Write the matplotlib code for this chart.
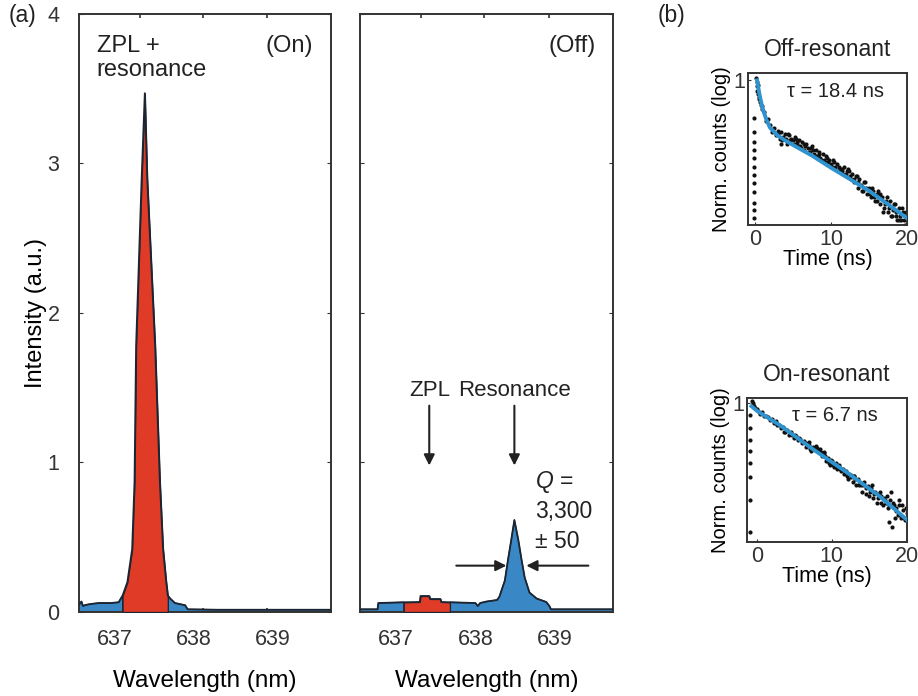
import matplotlib
matplotlib.use("Agg")
import matplotlib.pyplot as plt

plt.rcParams['font.family'] = ['Liberation Sans', 'DejaVu Sans']
plt.rcParams['mathtext.fontset'] = 'custom'
plt.rcParams['mathtext.it'] = 'Liberation Sans:italic'
plt.rcParams['mathtext.rm'] = 'Liberation Sans'
plt.rcParams['text.color'] = '#222222'
plt.rcParams['axes.edgecolor'] = '#333333'
plt.rcParams['xtick.color'] = '#333333'
plt.rcParams['ytick.color'] = '#333333'

RED = '#e03b26'
BLUE = '#3a87c6'
EDGE = '#1c2633'
FIT = '#2f93cf'

# spectra, cavity on / off resonance with the ZPL
on_wl = [636.55, 636.58, 636.60, 636.62, 636.66, 636.72, 636.80, 636.95, 637.05,
         637.10, 637.16, 637.22, 637.25, 637.27, 637.34, 637.38, 637.41, 637.51,
         637.57, 637.61, 637.65, 637.67, 637.70, 637.76, 637.89, 637.92, 638.3,
         638.8, 639.3, 639.73]
on_int = [0.05, 0.07, 0.04, 0.045, 0.05, 0.055, 0.06, 0.06, 0.065,
          0.11, 0.20, 0.42, 0.87, 1.78, 2.90, 3.47, 2.90, 1.78,
          0.87, 0.42, 0.20, 0.11, 0.09, 0.06, 0.045, 0.018, 0.015,
          0.015, 0.015, 0.015]

off_wl = [636.55, 636.77, 636.78, 637.10, 637.30, 637.31, 637.42, 637.43, 637.56,
          637.57, 637.68, 638.00, 638.03, 638.06, 638.14, 638.27, 638.30, 638.37,
          638.41, 638.45, 638.49, 638.54, 638.58, 638.62, 638.68, 638.77, 638.89,
          638.93, 638.95, 639.73]
off_int = [0.018, 0.018, 0.06, 0.065, 0.067, 0.107, 0.107, 0.087, 0.087,
           0.067, 0.065, 0.06, 0.04, 0.06, 0.07, 0.08, 0.10, 0.21,
           0.35, 0.48, 0.615, 0.48, 0.35, 0.23, 0.13, 0.09, 0.067,
           0.04, 0.018, 0.018]

wl_ticks = [637, 638, 639]
tick_marks = [637.32, 638.11, 638.92]

# lifetime traces (normalised counts)
off_t = [-0.15] * 12 + [0.2, 0.25, 0.3, 0.35, 0.4, 0.45, 0.5, 0.6, 0.7, 0.8, 0.9] + \
    [1.0, 1.25, 1.5, 1.75, 2.0, 2.25, 2.5, 2.75, 3.0, 3.25, 3.5, 3.75, 4.0, 4.25,
     4.5, 4.75, 5.0, 5.25, 5.5, 5.75, 6.0, 6.25, 6.5, 6.75, 7.0, 7.25, 7.5, 7.75,
     8.0, 8.25, 8.5, 8.75, 9.0, 9.25, 9.5, 9.75, 10.0, 10.25, 10.5, 10.75, 11.0,
     11.25, 11.5, 11.75, 12.0, 12.25, 12.5, 12.75, 13.0, 13.25, 13.5, 13.75, 14.0,
     14.25, 14.5, 14.75, 15.0, 15.25, 15.5, 15.75, 16.0, 16.25, 16.5, 16.75, 17.0,
     17.25, 17.5, 17.75, 18.0, 18.25, 18.5, 18.75, 19.0, 19.25, 19.5, 19.75, 20.0] + \
    [3.1, 3.6, 4.1, 4.6, 5.1, 5.6, 6.1, 6.6, 7.1, 7.6, 8.1, 8.6, 9.1, 9.6, 10.1,
     10.6, 11.1, 11.6, 12.1, 12.6, 13.1, 13.6, 14.1, 14.6, 15.1, 15.6, 16.1, 16.6,
     17.1, 17.6, 18.1, 18.6, 19.1, 19.6, 19.9] + \
    [3.4, 4.4, 5.4, 6.4, 7.4, 8.4, 9.4, 10.4, 11.4, 12.4, 13.4, 14.4, 15.4, 16.4,
     17.4, 18.4, 19.4, 19.8, 18.9, 17.9, 16.9]
off_counts = [0.64, 0.542, 0.481, 0.438, 0.398, 0.358, 0.326, 0.296, 0.266, 0.234, 0.215, 0.196] + \
    [1.03, 0.98, 0.93, 0.88, 0.95, 0.85, 0.82, 0.80, 0.77, 0.75, 0.71] + \
    [0.74, 0.69, 0.62, 0.63, 0.59, 0.545, 0.57, 0.52, 0.55, 0.50, 0.54, 0.51, 0.53, 0.47,
     0.52, 0.50, 0.49, 0.51, 0.47, 0.49, 0.46, 0.48, 0.44, 0.47, 0.45, 0.43, 0.46, 0.42,
     0.44, 0.41, 0.43, 0.39, 0.42, 0.38, 0.40, 0.39, 0.37, 0.39, 0.35, 0.37, 0.36,
     0.35, 0.34, 0.36, 0.33, 0.35, 0.32, 0.33, 0.30, 0.32, 0.28, 0.31, 0.29,
     0.27, 0.30, 0.26, 0.28, 0.25, 0.27, 0.24, 0.26, 0.27, 0.23, 0.25, 0.22,
     0.24, 0.21, 0.24, 0.20, 0.23, 0.21, 0.19, 0.22, 0.19, 0.21, 0.20, 0.19] + \
    [0.53, 0.49, 0.50, 0.49, 0.47, 0.48, 0.45, 0.46, 0.43, 0.44, 0.41, 0.40, 0.39, 0.38, 0.36,
     0.36, 0.34, 0.33, 0.34, 0.31, 0.31, 0.30, 0.27, 0.28, 0.26, 0.25, 0.24, 0.25,
     0.23, 0.22, 0.215, 0.20, 0.20, 0.19, 0.21] + \
    [0.47, 0.53, 0.50, 0.47, 0.45, 0.42, 0.41, 0.38, 0.35, 0.34, 0.32, 0.30, 0.28, 0.26,
     0.25, 0.23, 0.22, 0.18, 0.19, 0.20, 0.21]
off_fit_t = [0.3, 0.6, 1.0, 1.5, 2.0, 3.0, 4.0, 5.0, 7.5, 10.0, 12.5, 15.0, 17.5, 20.0]
off_fit = [1.0, 0.85, 0.72, 0.63, 0.57, 0.52, 0.49, 0.465, 0.41, 0.355, 0.31, 0.27, 0.23, 0.195]

on_t = [-0.9] * 8 + [-0.6, -0.5, -0.45, -0.3, -0.2, 0.0, 0.1] + \
    [0.25, 0.5, 0.75, 1.0, 1.25, 1.5, 1.75, 2.0, 2.25, 2.5, 2.75, 3.0, 3.25, 3.5, 3.75,
     4.0, 4.25, 4.5, 4.75, 5.0, 5.25, 5.5, 5.75, 6.0, 6.25, 6.5, 6.75, 7.0, 7.25, 7.5,
     7.75, 8.0, 8.25, 8.5, 8.75, 9.0, 9.25, 9.5, 9.75, 10.0, 10.25, 10.5, 10.75, 11.0,
     11.25, 11.5, 11.75, 12.0, 12.25, 12.5, 12.75, 13.0, 13.25, 13.5, 13.75, 14.0,
     14.25, 14.5, 14.75, 15.0, 15.25, 15.5, 15.75, 16.0, 16.25, 16.5, 16.75, 17.0,
     17.25, 17.5, 17.75, 18.0, 18.25, 18.5, 18.75, 19.0, 19.25, 19.5, 19.75, 20.0] + \
    [5.1, 5.6, 6.1, 6.6, 7.1, 7.6, 8.1, 8.6, 9.1, 9.6, 10.1, 10.6, 11.1, 11.6, 12.1,
     12.6, 13.1, 13.6, 14.1, 14.6, 15.1, 15.6, 16.1, 16.6, 17.1, 17.6, 18.1, 18.6,
     19.1, 19.6] + \
    [2.6, 3.6, 4.6, 6.9, 7.9, 8.4, 8.9, 9.9, 10.9, 11.9, 12.9, 13.9, 14.9, 15.4,
     16.4, 17.4, 17.9, 18.4, 18.9, 19.4, 19.9, 17.6]
on_counts = [0.73, 0.52, 0.38, 0.29, 0.21, 0.146, 0.080, 0.035] + \
    [1.05, 0.99, 0.95, 0.92, 0.88, 0.86, 0.83] + \
    [0.80, 0.76, 0.79, 0.71, 0.72, 0.69, 0.64, 0.66, 0.60, 0.60, 0.56, 0.57, 0.52, 0.53, 0.47,
     0.50, 0.44, 0.46, 0.44, 0.40, 0.42, 0.38, 0.39, 0.35, 0.37, 0.35, 0.33, 0.34, 0.29, 0.32,
     0.30, 0.31, 0.29, 0.28, 0.25, 0.27, 0.22, 0.24, 0.20, 0.22, 0.19, 0.21, 0.18, 0.19,
     0.17, 0.18, 0.165, 0.15, 0.16, 0.155, 0.13, 0.15, 0.12, 0.14, 0.125, 0.10,
     0.13, 0.095, 0.115, 0.09, 0.11, 0.085, 0.10, 0.075, 0.095, 0.09, 0.07, 0.085,
     0.075, 0.065, 0.08, 0.04, 0.07, 0.065, 0.055, 0.07, 0.05, 0.062, 0.048, 0.058] + \
    [0.43, 0.40, 0.36, 0.32, 0.30, 0.30, 0.29, 0.27, 0.25, 0.21, 0.20, 0.19, 0.18, 0.16, 0.14,
     0.145, 0.14, 0.12, 0.12, 0.11, 0.10, 0.095, 0.085, 0.075, 0.08, 0.07, 0.075, 0.06,
     0.055, 0.05] + \
    [0.63, 0.47, 0.47, 0.36, 0.33, 0.30, 0.28, 0.23, 0.20, 0.17, 0.15, 0.12, 0.11, 0.12,
     0.10, 0.09, 0.10, 0.05, 0.08, 0.07, 0.065, 0.045]
on_fit_t = [-0.7, 0.0, 3.1, 7.5, 12.0, 16.4, 20.0]
on_fit = [0.92, 0.82, 0.56, 0.30, 0.165, 0.088, 0.048]

fig = plt.figure(figsize=(9.18, 6.96), dpi=100)
ax_on = fig.add_axes([0.0861, 0.1207, 0.2745, 0.8592])
ax_off = fig.add_axes([0.3922, 0.1207, 0.2756, 0.8592])
ax_b1 = fig.add_axes([0.8148, 0.6767, 0.1732, 0.2184])
ax_b2 = fig.add_axes([0.8137, 0.2213, 0.1743, 0.2069])


def spectrum(ax, wl, inten, red_lo, red_hi):
    red = [red_lo <= w <= red_hi for w in wl]
    blue = [w <= red_lo or w >= red_hi for w in wl]
    ax.fill_between(wl, 0, inten, where=blue, facecolor=BLUE, edgecolor=EDGE, lw=0.9, zorder=2)
    ax.fill_between(wl, 0, inten, where=red, facecolor=RED, edgecolor=EDGE, lw=0.9, zorder=3)
    ax.plot(wl, inten, color=EDGE, lw=1.3, zorder=4)
    ax.set_xlim(636.55, 639.73)
    ax.set_ylim(0, 4)
    ax.set_xticks(wl_ticks)
    ax.set_xticks(tick_marks, minor=True)
    ax.tick_params(axis='x', which='major', length=0, labelsize=15.5, pad=12)
    ax.tick_params(axis='x', which='minor', direction='in', length=3, top=True, width=1.2)
    ax.set_xlabel('Wavelength (nm)', fontsize=17.5, labelpad=15)
    for s in ax.spines.values():
        s.set_linewidth(1.4)


spectrum(ax_on, on_wl, on_int, 637.10, 637.67)
ax_on.set_yticks([0, 1, 2, 3, 4])
ax_on.tick_params(axis='y', direction='in', length=3, right=True, labelsize=15.5, pad=14)
ax_on.set_ylabel('Intensity (a.u.)', fontsize=17, labelpad=0)
ax_on.text(0.07, 0.965, 'ZPL +\nresonance', transform=ax_on.transAxes, fontsize=17,
           va='top', ha='left', linespacing=1.15)
ax_on.text(0.93, 0.965, '(On)', transform=ax_on.transAxes, fontsize=17, va='top', ha='right')

spectrum(ax_off, off_wl, off_int, 637.10, 637.68)
ax_off.set_yticks([0, 1, 2, 3, 4])
ax_off.tick_params(axis='y', direction='in', length=3, right=True, labelleft=False)
ax_off.text(0.93, 0.965, '(Off)', transform=ax_off.transAxes, fontsize=17, va='top', ha='right')

arrow = dict(arrowstyle='-|>', color='#222222', lw=1.5, mutation_scale=16, shrinkA=0, shrinkB=0)
ax_off.text(637.42, 1.48, 'ZPL', fontsize=16, ha='center', va='center')
ax_off.annotate('', xy=(637.42, 0.98), xytext=(637.42, 1.38), arrowprops=arrow)
ax_off.text(638.49, 1.48, 'Resonance', fontsize=16, ha='center', va='center')
ax_off.annotate('', xy=(638.49, 0.98), xytext=(638.49, 1.38), arrowprops=arrow)
ax_off.annotate('', xy=(638.39, 0.31), xytext=(637.76, 0.31), arrowprops=arrow)
ax_off.annotate('', xy=(638.64, 0.31), xytext=(639.42, 0.31), arrowprops=arrow)
ax_off.text(638.75, 0.87, '$\\mathit{Q}$ =', fontsize=16.5, ha='left', va='center')
ax_off.text(638.75, 0.675, '3,300', fontsize=16.5, ha='left', va='center')
ax_off.text(638.75, 0.47, '± 50', fontsize=16.5, ha='left', va='center')


def lifetime(ax, t, counts, fit_t, fit, ylim, xlim, label, title):
    ax.scatter(t, counts, s=9, color='#111111', lw=0, zorder=2)
    ax.plot(fit_t, fit, color=FIT, lw=2.8, zorder=3)
    ax.set_yscale('log')
    ax.set_ylim(*ylim)
    ax.set_xlim(*xlim)
    ax.set_yticks([1])
    ax.set_yticklabels(['1'])
    ax.yaxis.set_minor_locator(matplotlib.ticker.NullLocator())
    ax.set_xticks([0, 10, 20])
    ax.tick_params(axis='both', direction='in', length=2.5, labelsize=15.5, pad=3)
    ax.tick_params(axis='y', pad=2)
    ax.set_xlabel('Time (ns)', fontsize=15.5, labelpad=-1)
    ax.set_ylabel('Norm. counts (log)', fontsize=14.5, labelpad=2)
    ax.set_title(title, fontsize=16.5, pad=12)
    ax.text(0.55, 0.88, label, transform=ax.transAxes, fontsize=14.5, ha='center', va='center')
    for s in ax.spines.values():
        s.set_linewidth(1.4)


lifetime(ax_b1, off_t, off_counts, off_fit_t, off_fit, (0.18, 1.09), (-0.9, 20),
         'τ = 18.4 ns', 'Off-resonant')
lifetime(ax_b2, on_t, on_counts, on_fit_t, on_fit, (0.027, 1.14), (-1.3, 20),
         'τ = 6.7 ns', 'On-resonant')

fig.text(0.024, 0.978, '(a)', fontsize=16.5, ha='center', va='center')
fig.text(0.732, 0.978, '(b)', fontsize=16.5, ha='center', va='center')

fig.savefig('out.png', dpi=100)
